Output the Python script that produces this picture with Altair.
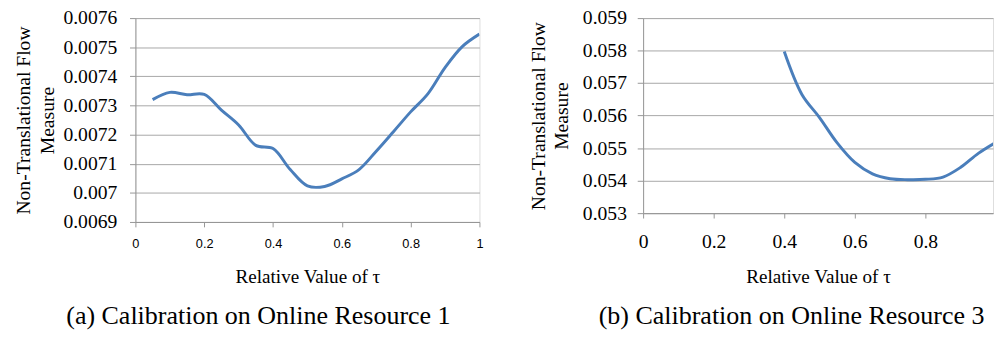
import altair as alt
import pandas as pd

# ---- data ----
tau_a = [0.05, 0.10, 0.15, 0.20, 0.25, 0.30, 0.35, 0.40, 0.45, 0.50,
         0.55, 0.60, 0.65, 0.70, 0.75, 0.80, 0.85, 0.90, 0.95, 1.00]
ntf_a = [0.007320, 0.007345, 0.007337, 0.007338, 0.007284, 0.007233, 0.007163,
         0.007152, 0.007080, 0.007024, 0.007022, 0.007048, 0.007080, 0.007143,
         0.007210, 0.007278, 0.007340, 0.007430, 0.007502, 0.007545]

tau_b = [0.40, 0.45, 0.50, 0.55, 0.60, 0.65, 0.70, 0.75, 0.80, 0.85, 0.90, 0.95, 1.00]
ntf_b = [0.05797, 0.05665, 0.05594, 0.05516, 0.05456, 0.05421, 0.05406,
         0.05403, 0.05404, 0.05411, 0.05441, 0.05484, 0.05518]

x_ticks_a = [0, 0.2, 0.4, 0.6, 0.8, 1.0]
y_ticks_a = [0.0069, 0.0070, 0.0071, 0.0072, 0.0073, 0.0074, 0.0075, 0.0076]
x_ticks_b = [0, 0.2, 0.4, 0.6, 0.8]
y_ticks_b = [0.053, 0.054, 0.055, 0.056, 0.057, 0.058, 0.059]

x_title = "Relative Value of τ"
y_title = ["Non-Translational Flow", "Measure"]
caption_a = "(a) Calibration on Online Resource 1"
caption_b = "(b) Calibration on Online Resource 3"

SERIF = "'Liberation Serif', 'Times New Roman', Times, serif"
SANS = "'Liberation Sans', Arial, sans-serif"
LINE = "#4A7EBB"
GRID = "#A6A6A6"
AXIS = "#969696"

df_a = pd.DataFrame({"tau": tau_a, "ntf": ntf_a})
df_b = pd.DataFrame({"tau": tau_b, "ntf": ntf_b})


def panel(df, xt, yt, xdom, ydom, w, h, caption, cap_dx, ytx, x_label_font, x_label_size, x_label_pad, y_label_pad, xty):
    return alt.Chart(
        df,
        title=alt.TitleParams(
            caption, orient="bottom", font=SERIF, fontSize=26.5, fontWeight="normal",
            color="black", anchor="middle", dx=cap_dx, offset=18,
        ),
    ).mark_line(color=LINE, strokeWidth=3, interpolate="catmull-rom", clip=True).encode(
        x=alt.X(
            "tau:Q",
            scale=alt.Scale(domain=xdom, nice=False, zero=False),
            axis=alt.Axis(
                values=xt, format="~g", title=x_title, grid=False,
                labelFont=x_label_font, labelFontSize=x_label_size, labelColor="black",
                labelPadding=x_label_pad, labelFlush=False,
                domainColor=AXIS, tickColor=AXIS, tickSize=5,
                titleFont=SERIF, titleFontSize=19.5, titleFontWeight="normal", titleColor="black",
                titleBaseline="alphabetic", titleY=xty,
            ),
        ),
        y=alt.Y(
            "ntf:Q",
            scale=alt.Scale(domain=ydom, nice=False, zero=False),
            axis=alt.Axis(
                values=yt, format="~g", title=y_title, grid=True, gridColor=GRID,
                labelFont=SERIF, labelFontSize=20, labelColor="black",
                labelPadding=y_label_pad, labelFlush=False,
                domainColor=AXIS, tickColor=AXIS, tickSize=6,
                titleFont=SERIF, titleFontSize=20, titleFontWeight="normal", titleColor="black",
                titleAngle=270, titleAlign="center", titleBaseline="middle",
                titleLineHeight=24, titleX=ytx, titleY=h / 2,
            ),
        ),
    ).properties(width=w, height=h)


left = panel(df_a, x_ticks_a, y_ticks_a, [0, 1], [0.0069, 0.0076], 351, 208,
             caption_a, -50, -114, SANS, 13, 11, 13, 62)
right = panel(df_b, x_ticks_b, y_ticks_b, [0, 357 / 360], [0.053, 0.059], 357, 199,
              caption_b, -27, -107, SERIF, 20, 14, 11, 71)

chart = alt.hconcat(left, right, spacing=44).configure_view(stroke=None).configure(
    padding={"left": 5, "top": -4, "right": 0, "bottom": 0},
    background="white",
)

chart.save("out.html", embed_options={"renderer": "svg", "actions": False})
